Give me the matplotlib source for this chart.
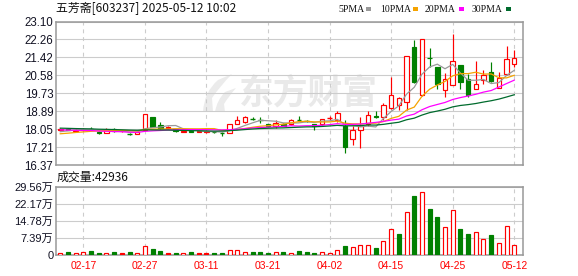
import matplotlib
matplotlib.use("Agg")
import matplotlib.pyplot as plt
from matplotlib.patches import Rectangle, PathPatch
from matplotlib.path import Path
import numpy as np
import pandas as pd

# ---------------- data ----------------
title = "五芳斋[603237] 2025-05-12 10:02"
last_volume = 42936

dates = ["02-12", "02-13", "02-14", "02-17", "02-18", "02-19", "02-20", "02-21", "02-24", "02-25",
         "02-26", "02-27", "02-28", "03-03", "03-04", "03-05", "03-06", "03-07", "03-10", "03-11",
         "03-12", "03-13", "03-14", "03-17", "03-18", "03-19", "03-20", "03-21", "03-24", "03-25",
         "03-26", "03-27", "03-28", "03-31", "04-01", "04-02", "04-03", "04-07", "04-08", "04-09",
         "04-10", "04-11", "04-14", "04-15", "04-16", "04-17", "04-18", "04-21", "04-22", "04-23",
         "04-24", "04-25", "04-28", "04-29", "04-30", "05-06", "05-07", "05-08", "05-09", "05-12"]

opens = [18.02, 18.08, 17.96, 18.00, 18.05, 17.92, 17.88, 18.07, 17.98, 17.82,
         17.84, 18.02, 18.60, 18.24, 18.16, 18.07, 17.92, 17.97, 17.97, 17.98,
         17.93, 17.88, 17.87, 18.30, 18.38, 18.52, 18.46, 18.27, 18.22, 18.30,
         18.27, 18.48, 18.45, 18.27, 18.27, 18.56, 18.46, 18.21, 17.60, 17.99,
         18.27, 18.68, 18.61, 19.04, 19.20, 19.31, 21.89, 19.66, 21.40, 20.96,
         19.89, 20.11, 21.06, 20.39, 19.93, 20.34, 20.73, 20.00, 20.62, 21.09]

highs = [18.10, 18.12, 18.06, 18.10, 18.16, 17.95, 18.11, 18.10, 18.00, 17.86,
         17.93, 18.75, 18.62, 18.40, 18.18, 18.08, 17.99, 18.00, 17.99, 18.00,
         17.95, 17.92, 18.27, 18.69, 18.69, 18.61, 18.64, 18.28, 18.46, 18.33,
         18.52, 18.69, 18.50, 18.28, 18.55, 18.66, 18.92, 18.46, 18.18, 18.61,
         18.92, 18.92, 19.26, 20.50, 19.57, 21.46, 22.25, 22.26, 21.86, 20.96,
         20.67, 22.51, 21.06, 20.62, 21.24, 20.81, 21.21, 20.73, 21.94, 21.78]

lows = [17.98, 18.00, 17.92, 17.98, 18.00, 17.82, 17.86, 17.93, 17.92, 17.76,
        17.82, 18.00, 18.15, 18.03, 18.06, 17.93, 17.90, 17.90, 17.90, 17.88,
        17.88, 17.75, 17.85, 18.28, 18.33, 18.46, 18.33, 18.16, 18.12, 18.20,
        18.25, 18.42, 18.40, 18.02, 18.25, 18.46, 18.38, 16.94, 17.30, 17.19,
        18.18, 18.56, 18.46, 19.00, 18.95, 18.95, 20.20, 19.60, 20.96, 19.93,
        19.55, 20.11, 19.93, 19.57, 19.93, 20.16, 20.28, 20.00, 20.59, 20.98]

closes = [18.05, 18.02, 18.03, 18.06, 18.05, 17.85, 17.99, 17.95, 17.95, 17.82,
          17.90, 18.75, 18.17, 18.12, 18.12, 17.95, 17.97, 17.93, 17.93, 17.93,
          17.90, 17.88, 18.27, 18.46, 18.61, 18.52, 18.46, 18.18, 18.34, 18.22,
          18.50, 18.48, 18.45, 18.18, 18.53, 18.56, 18.83, 17.22, 18.02, 18.18,
          18.72, 18.64, 19.20, 19.66, 19.51, 21.46, 20.24, 22.26, 21.37, 20.16,
          20.39, 21.27, 20.24, 19.66, 20.16, 20.58, 20.31, 20.47, 21.32, 21.37]

# volume in 万 (10k)
volumes_wan = [1.0, 1.2, 1.0, 1.4, 1.6, 0.7, 1.0, 1.2, 0.7, 1.2,
               1.0, 4.1, 2.5, 1.6, 0.7, 0.7, 1.0, 1.2, 0.7, 0.7,
               0.7, 0.7, 2.3, 2.3, 1.4, 1.2, 1.2, 0.7, 1.4, 1.2,
               1.0, 1.6, 1.2, 0.7, 1.4, 1.0, 2.3, 3.8, 3.6, 4.5,
               4.5, 2.9, 6.2, 11.4, 9.0, 18.8, 25.5, 27.5, 19.9, 16.4,
               12.3, 19.7, 11.2, 9.0, 10.1, 7.1, 8.6, 5.4, 12.8, 4.2936]

# closes before the visible window (needed for the moving averages)
prior_closes = [18.30, 18.35, 18.30, 18.25, 18.30, 18.20, 18.25, 18.30, 18.20, 18.15,
                18.20, 18.25, 18.20, 18.15, 18.30, 18.20, 18.25, 18.10, 18.20, 18.15,
                17.75, 17.70, 17.80, 17.75, 17.70, 17.80, 17.85, 17.95, 18.00]

ma_periods = [5, 10, 20, 30]
ma_names = ["5PMA", "10PMA", "20PMA", "30PMA"]

price_ticks = [16.37, 17.21, 18.05, 18.89, 19.73, 20.58, 21.42, 22.26, 23.10]
price_tick_labels = ["16.37", "17.21", "18.05", "18.89", "19.73", "20.58", "21.42", "22.26", "23.10"]
vol_ticks = [0, 7.39, 14.78, 22.17, 29.56]
vol_tick_labels = ["0", "7.39万", "14.78万", "22.17万", "29.56万"]
date_ticks = ["02-17", "02-27", "03-11", "03-21", "04-02", "04-15", "04-25", "05-12"]

# ---------------- style ----------------
W, H = 578, 276
RED = "#ff0000"
GREEN = "#008000"
MA_COLORS = ["#999999", "#f5a300", "#ff00ff", "#006b2d"]
GRID = "#cccccc"
SPINE = "#999999"
CJK = ["Noto Sans CJK SC", "DejaVu Sans"]
NUM = ["Liberation Sans", "Noto Sans CJK SC", "DejaVu Sans"]


def fx(px):
    return px / W


def fy(py):
    return 1 - py / H


fig = plt.figure(figsize=(W / 100, H / 100), dpi=100)
fig.patch.set_facecolor("white")

L, R = 55.5, 522.5
ax = fig.add_axes([fx(L), fy(165), (R - L) / W, (165 - 21.5) / H])
axv = fig.add_axes([fx(L), fy(255), (R - L) / W, (255 - 187) / H])

n = len(closes)
x = np.arange(n)
prev = [prior_closes[-1]] + closes[:-1]
xlim = (-0.62, n - 1 + 1.07)

# ---- moving averages ----
all_closes = pd.Series(prior_closes + closes)
for period, col in zip(ma_periods, MA_COLORS):
    ma = all_closes.rolling(period).mean().iloc[-n:].to_numpy()
    ax.plot(x, ma, color=col, lw=0.9, zorder=5, solid_joinstyle="miter")

# ---- candles ----
bw = 0.58
for i in range(n):
    o, h, l, c, p = opens[i], highs[i], lows[i], closes[i], prev[i]
    if c > o:
        col, hollow = RED, True
    else:
        col, hollow = (RED if c >= p else GREEN), False
    ax.vlines(i, l, h, color=col, lw=0.85, zorder=3)
    if c != o:
        ax.add_patch(Rectangle((i - bw / 2, min(o, c)), bw, abs(c - o),
                               facecolor="white" if hollow else col,
                               edgecolor=col, lw=0.85, zorder=4))
    else:
        ax.hlines(c, i - bw / 2, i + bw / 2, color=col, lw=1.0, zorder=4)

# ---- volume ----
vw = 0.52
for i in range(n):
    c, p, v = closes[i], prev[i], volumes_wan[i]
    if c > p:
        fc, ec = "white", RED
    elif c < p:
        fc, ec = GREEN, GREEN
    else:
        fc, ec = RED, RED
    axv.add_patch(Rectangle((i - vw / 2, 0), vw, v, facecolor=fc, edgecolor=ec,
                            lw=0.85, zorder=4))

# ---- axes styling ----
date_pos = [dates.index(d) for d in date_ticks]
for a in (ax, axv):
    a.set_xlim(*xlim)
    for s in a.spines.values():
        s.set_color(SPINE)
        s.set_linewidth(1.1)
    a.tick_params(length=0)
    for dp in date_pos:
        a.axvline(dp, color=GRID, lw=0.8, ls=(0, (3.5, 3.5)), zorder=1)

ax.set_ylim(price_ticks[0], price_ticks[-1])
ax.set_yticks(price_ticks)
ax.set_yticklabels(price_tick_labels, family=NUM, fontsize=8.3, color="#111122")
ax.set_xticks([])
ax.grid(axis="y", color=GRID, lw=0.8, zorder=1)
ax.tick_params(axis="y", pad=1.5)

axv.set_ylim(vol_ticks[0], vol_ticks[-1])
axv.set_yticks(vol_ticks)
axv.set_yticklabels(vol_tick_labels, family=NUM, fontsize=8.0, color="#111122")
axv.set_xticks(date_pos)
axv.set_xticklabels(date_ticks, family=NUM, fontsize=7.4, color=RED)
axv.grid(axis="y", color=GRID, lw=0.8, zorder=1)
axv.tick_params(axis="y", pad=1.5)
axv.tick_params(axis="x", pad=4)

# ---- watermark ----
ax.text(fx(308), fy(93), "东方财富", transform=fig.transFigure, family=CJK,
        fontsize=25, fontweight="bold", color="#e9e9e9", ha="center", va="center",
        zorder=0.5)


def px_path(pts):
    return [(fx(a), fy(b)) for a, b in pts]


swoosh_parts = [
    [(203, 112), (204, 92), (218, 80), (232, 74), (220, 86), (212, 98), (213, 112), (203, 112)],
    [(215, 112), (217, 100), (225, 92), (236, 88), (229, 96), (224, 104), (225, 112), (215, 112)],
]
codes = [Path.MOVETO, Path.CURVE3, Path.CURVE3, Path.LINETO, Path.CURVE3, Path.CURVE3,
         Path.LINETO, Path.CLOSEPOLY]
for part in swoosh_parts:
    pp = PathPatch(Path(px_path(part), codes), transform=fig.transFigure,
                   facecolor="#ebebeb", edgecolor="none", zorder=0.5)
    ax.add_artist(pp)

# ---- texts ----
fig.text(fx(56), fy(8.5), title, family=CJK, fontsize=8.6, color="#111111",
         ha="left", va="center")
fig.text(fx(57), fy(177.5), f"成交量:{last_volume}", family=CJK, fontsize=8.6,
         color="#111111", ha="left", va="center")

legend_x = [338, 380, 425, 472]
square_x = [366, 413, 459, 506]
for name, col, lx, sx in zip(ma_names, MA_COLORS, legend_x, square_x):
    fig.text(fx(lx), fy(9), name, family=["Liberation Serif", "DejaVu Serif"],
             fontsize=7.0, color="#111111", ha="left", va="center")
    fig.patches.append(Rectangle((fx(sx), fy(10.5)), 5 / W, 4 / H, transform=fig.transFigure,
                                 facecolor=col, edgecolor="none", figure=fig))

fig.savefig("out.png", dpi=100, facecolor="white")
